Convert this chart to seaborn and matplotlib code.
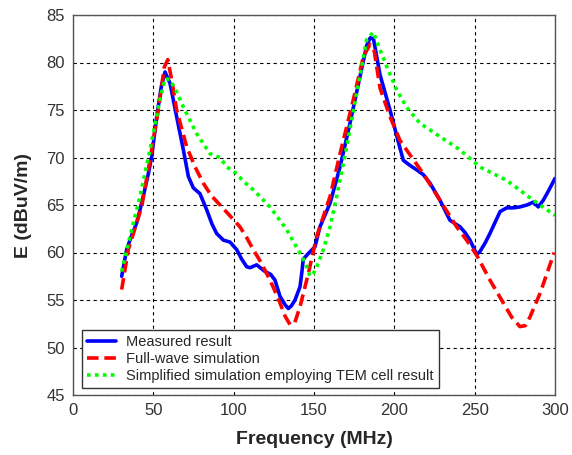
import numpy as np
import pandas as pd
import matplotlib
matplotlib.use("Agg")
import matplotlib.pyplot as plt
import seaborn as sns

# Measured field strength
meas_f = [30.3, 33.4, 36.5, 39.6, 41.7, 44.5, 46.9, 49.0, 52.1, 55.0, 57.3, 60.4, 64.5, 68.7,
          71.8, 74.9, 79.0, 83.2, 86.5, 89.4, 93.6, 97.7, 101.9, 105.0, 108.1, 110.2, 114.3,
          119.5, 123.0, 125.7, 128.8, 132.0, 134.0, 136.0, 138.2, 141.3, 142.5, 143.3, 146.5,
          150.6, 153.7, 157.0, 160.0, 166.2, 172.4, 178.6, 182.8, 185.0, 187.0, 191.1, 197.3,
          203.5, 205.6, 209.5, 213.9, 218.0, 222.2, 228.4, 234.6, 240.9, 244.0, 247.1, 251.3,
          253.3, 256.5, 259.5, 262.5, 265.8, 269.9, 274.0, 278.2, 282.5, 286.5, 289.6, 292.7,
          296.0, 300.0]
meas_e = [57.5, 60.3, 61.8, 63.1, 64.5, 66.5, 68.3, 70.1, 74.3, 77.5, 79.0, 77.8, 74.3, 70.8,
          68.0, 66.8, 66.2, 64.5, 63.0, 62.0, 61.3, 61.1, 60.3, 59.3, 58.5, 58.4, 58.7,
          58.0, 57.7, 57.1, 55.4, 54.5, 54.1, 54.4, 55.0, 56.4, 58.0, 59.3, 59.9,
          60.6, 62.7, 64.0, 65.2, 69.0, 73.6, 78.5, 81.8, 82.6, 82.5, 78.7, 75.0,
          71.0, 69.7, 69.2, 68.7, 68.2, 67.3, 65.5, 63.4, 62.7, 62.1, 61.3, 59.8,
          60.1, 61.0, 62.0, 63.1, 64.3, 64.7, 64.7, 64.8, 65.0, 65.3, 64.8, 65.5,
          66.5, 67.8]

# Full-wave simulation
fw_f = [30.3, 34.4, 38.5, 42.7, 47.9, 53.1, 56.8, 59.0, 61.4, 64.5, 70.8, 76.0, 81.1, 86.0,
        91.5, 97.5, 103.9, 108.0, 112.2, 116.5, 120.5, 124.5, 128.8, 132.0, 135.1, 138.0,
        141.3, 146.5, 151.7, 160.0, 166.2, 174.5, 180.7, 184.8, 187.5, 191.1, 197.3, 203.5,
        207.6, 218.0, 228.4, 238.8, 245.0, 251.3, 259.5, 267.8, 273.0, 278.2, 281.5, 284.4,
        290.7, 295.0, 299.5]
fw_e = [56.1, 60.3, 62.5, 64.8, 69.7, 75.0, 79.5, 80.3, 78.2, 75.0, 71.1, 69.0, 67.3, 66.0,
        65.0, 63.9, 62.7, 61.6, 60.3, 59.1, 57.8, 56.4, 54.7, 53.3, 52.4, 52.6,
        54.3, 57.8, 61.7, 65.9, 70.4, 76.1, 80.6, 81.9, 81.2, 77.3, 74.3, 71.8,
        70.8, 68.3, 65.5, 62.7, 61.3, 59.7, 57.1, 54.7, 53.2, 52.2, 52.3, 53.2,
        55.7, 57.8, 60.0]

# Simplified simulation employing the TEM cell result
simp_f = [30.3, 35.5, 41.7, 47.9, 54.1, 57.3, 60.4, 64.5, 68.7, 77.0, 85.3, 91.5, 95.7, 101.9,
          106.0, 112.2, 122.6, 133.0, 141.3, 144.4, 146.5, 147.5, 149.6, 151.7, 155.8, 160.0,
          164.1, 170.3, 176.6, 182.8, 186.9, 190.0, 195.2, 201.5, 207.6, 216.0, 228.4, 240.9,
          253.3, 269.9, 286.5, 300.0]
simp_e = [58.0, 61.7, 65.9, 70.8, 76.1, 78.3, 78.2, 76.9, 75.3, 72.5, 70.4, 70.0, 69.0, 68.3,
          67.5, 66.6, 64.8, 62.4, 59.9, 59.0, 58.0, 57.5, 57.8, 58.5, 60.3, 62.7,
          65.9, 71.1, 76.8, 82.4, 83.2, 81.8, 79.6, 77.1, 75.3, 73.6, 72.2, 70.8,
          69.0, 67.6, 65.5, 63.9]

labels = ["Measured result", "Full-wave simulation",
          "Simplified simulation employing TEM cell result"]
x_ticks = [0, 50, 100, 150, 200, 250, 300]
y_ticks = [45, 50, 55, 60, 65, 70, 75, 80, 85]

sns.set_style("white")
plt.rcParams["font.family"] = ["Liberation Sans", "DejaVu Sans"]

fig = plt.figure(figsize=(5.72, 4.55), dpi=100)
ax = fig.add_axes([73 / 572, 1 - 395 / 455, 482 / 572, 380 / 455])

styles = [
    (meas_f, meas_e, labels[0], "#0000FF", "-"),
    (fw_f, fw_e, labels[1], "#FF0000", (0, (3.2, 1.6))),
    (simp_f, simp_e, labels[2], "#00FF00", (0, (1, 1.2))),
]
for f, e, lab, col, ls in styles:
    df = pd.DataFrame({"Frequency": f, "E": e})
    sns.lineplot(data=df, x="Frequency", y="E", ax=ax, color=col, label=lab,
                 linewidth=2.6, linestyle=ls, sort=False, estimator=None)

ax.set_xlim(0, 300)
ax.set_ylim(45, 85)
ax.set_xticks(x_ticks)
ax.set_yticks(y_ticks)
ax.tick_params(direction="in", length=4, labelsize=12, colors="#333333",
               labelcolor="#333333", pad=6)
ax.grid(True, color="black", linestyle=(0, (3, 3)), linewidth=0.8)
for sp in ax.spines.values():
    sp.set_color("#555555")
    sp.set_linewidth(1.0)

ax.set_xlabel("Frequency (MHz)", fontsize=14, fontweight="bold", labelpad=9)
ax.set_ylabel("E (dBuV/m)", fontsize=14, fontweight="bold", labelpad=10)

leg = ax.legend(loc="lower left", bbox_to_anchor=(0.018, 0.018), borderaxespad=0,
                fontsize=10.5, handlelength=2.0, handletextpad=0.7, labelspacing=0.2,
                fancybox=False, framealpha=1, borderpad=0.35)
leg.get_frame().set_edgecolor("#333333")
leg.get_frame().set_linewidth(1.0)

fig.savefig("out.png", dpi=100)
